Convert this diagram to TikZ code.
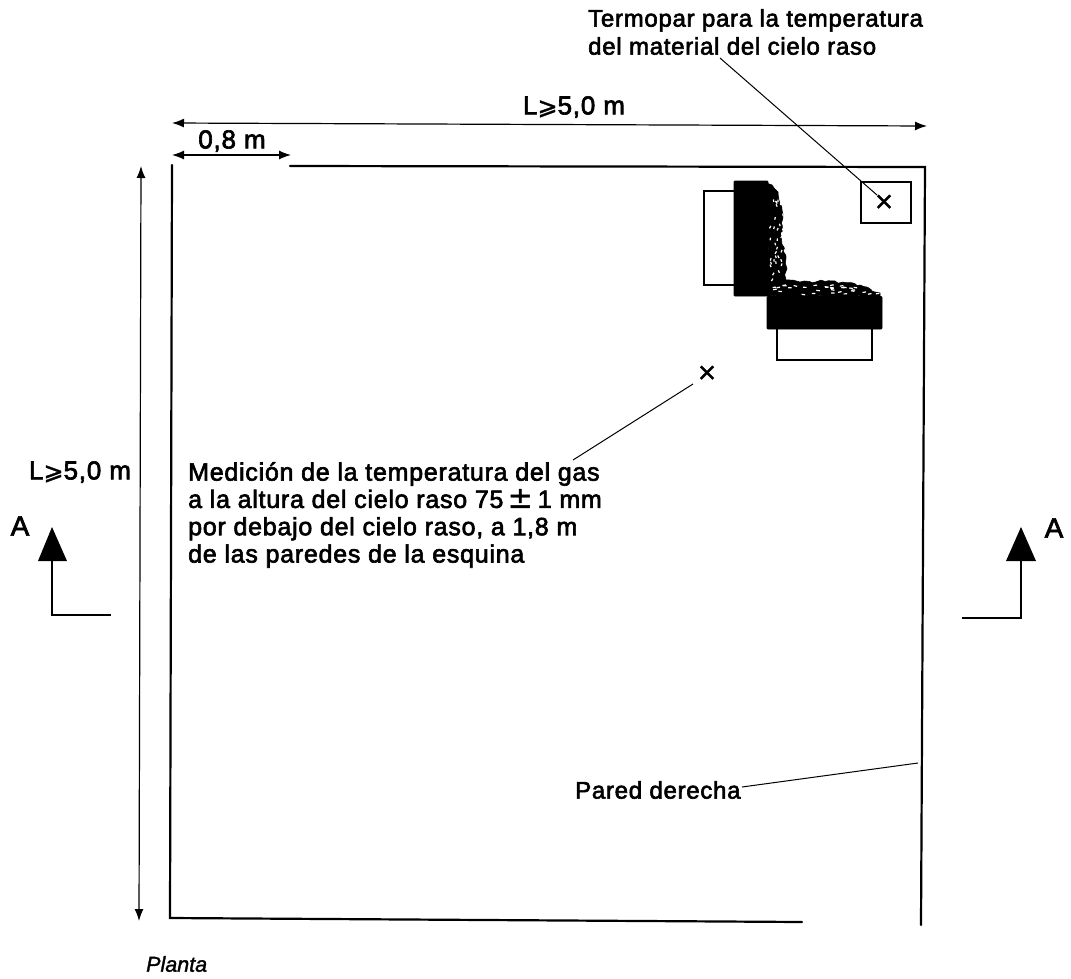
\documentclass[tikz,border=0pt]{standalone}
\usepackage{fontspec}
\setmainfont{Liberation Sans}
\usetikzlibrary{decorations.pathmorphing,arrows.meta}
\newfontfamily\lbl[FakeBold=2.5,LetterSpace=3]{Liberation Sans}
\newfontfamily\plain[FakeBold=1.5]{Liberation Sans}
\newfontfamily\sym[FakeBold=1.5]{DejaVu Sans}
\tikzset{
  wall/.style={line width=2.2pt,line cap=round},
  thin line/.style={line width=1pt},
  dim/.style={line width=1.2pt,{Latex[length=12pt,width=9pt]}-{Latex[length=12pt,width=9pt]}},
  lab/.style={font=\fontsize{24}{28}\selectfont\lbl,inner sep=0pt,align=left},
  labbig/.style={lab,font=\fontsize{25}{27.3}\selectfont\lbl},
  dimlab/.style={lab,font=\fontsize{26}{28}\selectfont\lbl},
  seclab/.style={lab,font=\fontsize{28}{28}\selectfont\lbl},
  xmark/.style={lab,font=\fontsize{24}{24}\selectfont\sym},
  burner/.style={line width=2pt,fill=white},
  black block/.style={fill=black,draw=black,line width=.8pt,rounded corners=1pt},
  rough/.style={fill=black,draw=black,line width=.6pt,decorate,decoration={random steps,segment length=4pt,amplitude=1.6pt}},
  speck/.style={white,line width=1.2pt},
  cutline/.style={line width=1.4pt}
}
\begin{document}
\begin{tikzpicture}[x=1pt,y=-1pt]
\pgfmathsetseed{11}
\useasboundingbox (0,0) rectangle (1071,978);
% walls
\coordinate (wtl) at (290,166); \coordinate (wtr) at (925,167);
\coordinate (wbr) at (921,925); \coordinate (wlt) at (172,165);
\coordinate (wlb) at (170,918); \coordinate (wbe) at (802,922);
\draw[wall] (wtl) -- (wtr) -- (wbr);
\draw[wall] (wlt) -- (wlb) -- (wbe);
% dimensions
\coordinate (d1a) at (172,123); \coordinate (d1b) at (927,126);
\coordinate (d2a) at (172,155); \coordinate (d2b) at (291,155);
\coordinate (d3a) at (141,166); \coordinate (d3b) at (139,921);
\draw[dim] (d1a) -- (d1b);
\draw[dim] (d2a) -- (d2b);
\draw[dim] (d3a) -- (d3b);
% burners
\draw[burner] (703.5,191) rectangle (736,285);
\draw[burner] (777,325) rectangle (872,360);
% flame texture
\draw[rough] (766,183) -- (772,185) -- (778,192) -- (782,210) -- (781,235) -- (786,258) -- (786,280) -- (800,282) -- (830,281) -- (860,285) -- (880,293) -- (880,297) -- (768,297) -- cycle;
\foreach \i in {1,...,34}{
  \pgfmathsetmacro{\px}{770+rnd*13}
  \pgfmathsetmacro{\py}{190+rnd*100}
  \pgfmathsetmacro{\dx}{rnd*3-1.5}
  \draw[speck] (\px,\py) -- ++(\dx,2.5);
}
\foreach \i in {1,...,34}{
  \pgfmathsetmacro{\px}{772+rnd*105}
  \pgfmathsetmacro{\py}{285.5+rnd*9}
  \pgfmathsetmacro{\dy}{rnd*1.6-.8}
  \draw[speck] (\px,\py) -- ++(3.5,\dy);
}
\draw[black block] (734,181) rectangle (768,296);
\draw[black block] (767,296.5) rectangle (882,329);
% thermocouple box
\node[draw,line width=1.8pt,minimum width=50pt,minimum height=41pt,inner sep=0pt] (box) at (886,202.5) {};
\node[xmark] (x1) at (884,202) {×};
\node[xmark] (x2) at (707,373) {×};
% labels
\node[lab,anchor=north west] (t1) at (588,9) {Termopar para la temperatura\\del material del cielo raso};
\node[dimlab,anchor=center] (d1) at (574,107) {L{\sym\fontsize{24}{24}\selectfont ⩾}5,0 m};
\node[dimlab,anchor=center] (d2) at (232,141) {0,8 m};
\node[dimlab,anchor=center] (d3) at (80,472) {L{\sym\fontsize{24}{24}\selectfont ⩾}5,0 m};
\node[labbig,anchor=north west] (t2) at (188,462) {Medición de la temperatura del gas\\a la altura del cielo raso 75{\,\sym\fontsize{30}{27.3}\selectfont ±\,}1 mm\\por debajo del cielo raso, a 1,8 m\\de las paredes de la esquina};
\node[lab,anchor=west] (t3) at (575,790) {Pared derecha};
\node[lab,anchor=west,font=\fontsize{21.5}{26}\selectfont\plain] (t4) at (146,964) {\itshape Planta};
\node[seclab] (al) at (20,526) {A};
\node[seclab] (ar) at (1054,528) {A};
% leaders
\coordinate (l1a) at (720,58); \coordinate (l1b) at (877,195);
\coordinate (l2a) at (693,384); \coordinate (l2b) at (573,460);
\coordinate (l3a) at (742,787); \coordinate (l3b) at (918,763);
\draw[thin line] (l1a) -- (l1b);
\draw[thin line] (l2a) -- (l2b);
\draw[thin line] (l3a) -- (l3b);
% section marks
\coordinate (al1) at (52,560); \coordinate (al2) at (52,615); \coordinate (al3) at (111,615);
\coordinate (ar1) at (1021,560); \coordinate (ar2) at (1021,618); \coordinate (ar3) at (962,618);
\fill (52,527) -- (67,561) -- (38,561) -- cycle;
\fill (1021,527) -- (1036,561) -- (1006,561) -- cycle;
\draw[cutline] (al1) -- (al2) -- (al3);
\draw[cutline] (ar1) -- (ar2) -- (ar3);
\end{tikzpicture}
\end{document}
